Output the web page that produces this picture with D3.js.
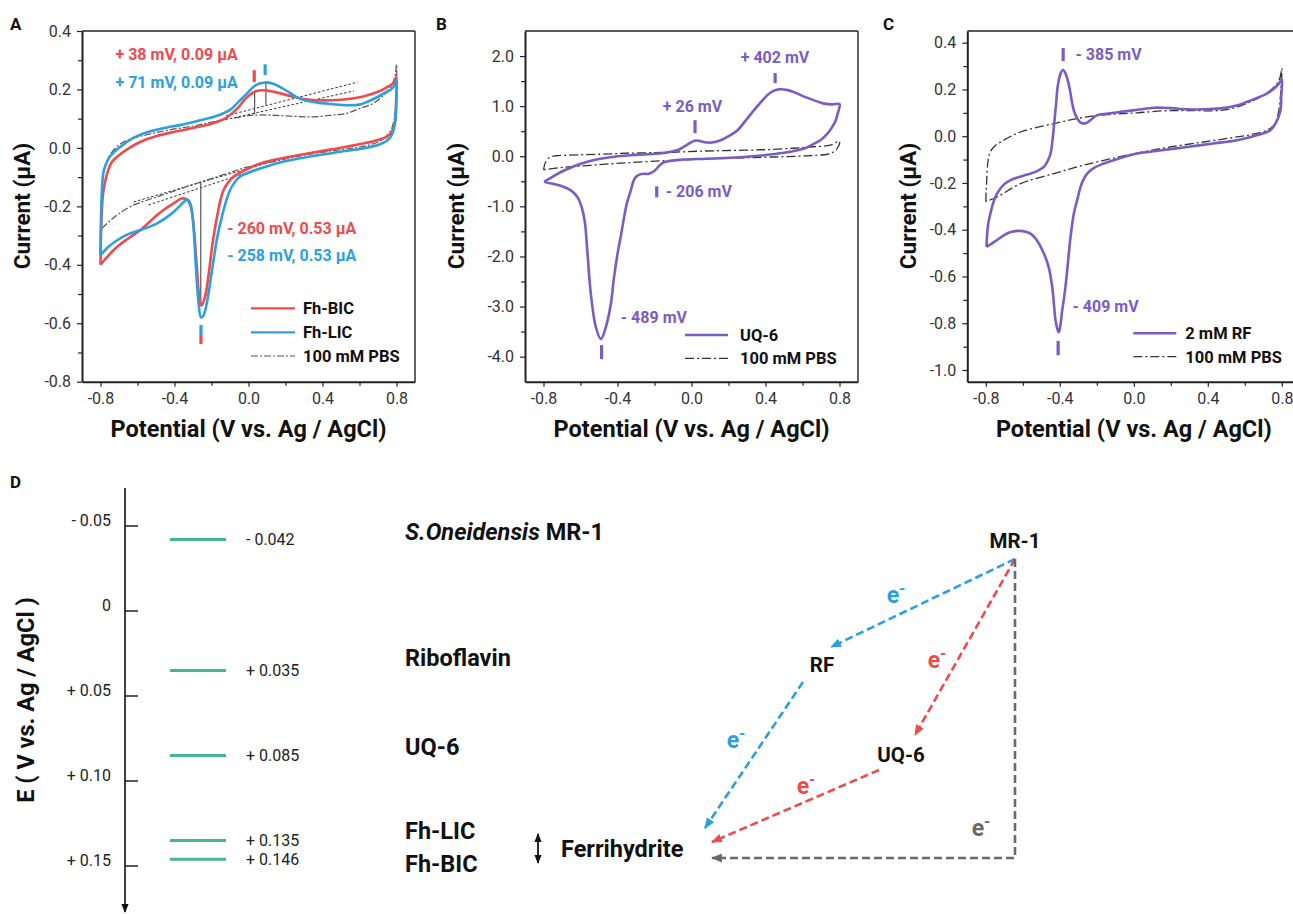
<!DOCTYPE html>
<html><head><meta charset="utf-8">
<script src="https://cdn.jsdelivr.net/npm/d3@7"></script>
<style>
body{margin:0;background:#fff;overflow:hidden}
svg{display:block}
text{font-family:Roboto,"Liberation Sans",Arial,sans-serif}
</style></head>
<body><svg id="c" width="1293" height="914"></svg>
<script>
// ---------------- DATA ----------------
const potentialTicks = [-0.8, -0.4, 0.0, 0.4, 0.8];
const potentialMinor = [-0.6, -0.2, 0.2, 0.6];
const ticksA = [-0.8, -0.6, -0.4, -0.2, 0.0, 0.2, 0.4];
const minorA = [-0.7, -0.5, -0.3, -0.1, 0.1, 0.3];
const ticksB = [-4.0, -3.0, -2.0, -1.0, 0.0, 1.0, 2.0];
const minorB = [-3.5, -2.5, -1.5, -0.5, 0.5, 1.5];
const ticksC = [-1.0, -0.8, -0.6, -0.4, -0.2, 0.0, 0.2, 0.4];
const minorC = [-0.9, -0.7, -0.5, -0.3, -0.1, 0.1, 0.3];

// Panel A: Fh-BIC (red), Fh-LIC (blue), PBS  [potential V, current uA]
const fhBIC = [[-0.80,-0.40],[-0.795,-0.25],[-0.785,-0.15],[-0.765,-0.09],[-0.74,-0.05],[-0.70,-0.025],[-0.656,-0.005],[-0.58,0.022],[-0.50,0.04],[-0.40,0.055],[-0.30,0.068],[-0.20,0.083],[-0.12,0.103],[-0.06,0.135],[-0.01,0.172],[0.04,0.194],[0.09,0.197],[0.15,0.19],[0.225,0.178],[0.30,0.167],[0.37,0.163],[0.45,0.163],[0.55,0.168],[0.62,0.176],[0.70,0.192],[0.755,0.21],[0.79,0.225],[0.80,0.243],
  [0.798,0.16],[0.793,0.09],[0.775,0.055],[0.746,0.038],[0.68,0.024],[0.62,0.015],[0.53,0.004],[0.44,-0.006],[0.35,-0.016],[0.26,-0.026],[0.17,-0.037],[0.08,-0.05],[0.009,-0.068],[-0.081,-0.099],[-0.135,-0.145],[-0.17,-0.236],[-0.195,-0.33],[-0.215,-0.43],[-0.235,-0.51],[-0.255,-0.54],[-0.268,-0.50],[-0.28,-0.40],[-0.295,-0.28],[-0.31,-0.205],[-0.33,-0.178],[-0.36,-0.173],[-0.405,-0.19],[-0.45,-0.208],[-0.494,-0.23],[-0.584,-0.281],[-0.65,-0.31],[-0.71,-0.338],[-0.76,-0.37],[-0.80,-0.40]];
const fhLIC = [[-0.80,-0.367],[-0.797,-0.236],[-0.79,-0.12],[-0.782,-0.076],[-0.755,-0.035],[-0.728,-0.015],[-0.68,0.01],[-0.62,0.035],[-0.54,0.055],[-0.44,0.07],[-0.37,0.078],[-0.26,0.095],[-0.17,0.11],[-0.10,0.13],[-0.05,0.16],[-0.01,0.185],[0.04,0.215],[0.09,0.224],[0.13,0.22],[0.17,0.209],[0.22,0.19],[0.26,0.174],[0.31,0.162],[0.37,0.155],[0.45,0.15],[0.53,0.146],[0.60,0.148],[0.64,0.157],[0.70,0.175],[0.73,0.186],[0.77,0.2],[0.79,0.214],[0.80,0.232],
  [0.798,0.14],[0.79,0.08],[0.775,0.045],[0.75,0.025],[0.70,0.01],[0.62,-0.002],[0.53,-0.01],[0.44,-0.019],[0.35,-0.028],[0.26,-0.038],[0.17,-0.05],[0.08,-0.067],[0.0,-0.085],[-0.05,-0.1],[-0.1,-0.145],[-0.144,-0.236],[-0.17,-0.31],[-0.2,-0.43],[-0.225,-0.53],[-0.245,-0.575],[-0.257,-0.58],[-0.27,-0.53],[-0.285,-0.40],[-0.30,-0.25],[-0.315,-0.19],[-0.332,-0.176],[-0.35,-0.185],[-0.405,-0.219],[-0.494,-0.258],[-0.584,-0.281],[-0.65,-0.295],[-0.71,-0.316],[-0.76,-0.34],[-0.80,-0.367]];
const pbsA = [[-0.80,-0.28],[-0.795,-0.18],[-0.785,-0.09],[-0.765,-0.045],[-0.745,-0.02],[-0.70,0.01],[-0.656,0.026],[-0.55,0.045],[-0.44,0.06],[-0.30,0.075],[-0.17,0.092],[-0.05,0.105],[0.03,0.112],[0.12,0.112],[0.25,0.108],[0.35,0.106],[0.45,0.112],[0.53,0.118],[0.60,0.135],[0.674,0.152],[0.73,0.18],[0.764,0.203],[0.79,0.24],[0.80,0.285],
  [0.797,0.17],[0.785,0.09],[0.76,0.05],[0.70,0.02],[0.62,0.005],[0.55,-0.002],[0.45,-0.01],[0.35,-0.02],[0.28,-0.027],[0.15,-0.045],[0.0,-0.065],[-0.08,-0.08],[-0.2,-0.105],[-0.3,-0.125],[-0.44,-0.156],[-0.53,-0.175],[-0.62,-0.195],[-0.70,-0.225],[-0.745,-0.247],[-0.80,-0.28]];
// baseline tangents and peak heights in panel A [v1,i1,v2,i2]
const baselinesA = [[-0.12,0.11,0.59,0.225],[-0.10,0.10,0.57,0.195],[-0.62,-0.185,0.12,-0.048],[-0.54,-0.195,0.10,-0.062]];
const peakLinesA = [[0.033,0.19,0.033,0.115],[0.094,0.222,0.094,0.148],[-0.258,-0.116,-0.258,-0.54]];

// Panel B: UQ-6
const uq6 = [[-0.797,-0.51],[-0.76,-0.43],[-0.724,-0.35],[-0.66,-0.24],[-0.598,-0.15],[-0.52,-0.07],[-0.418,-0.01],[-0.33,0.02],[-0.238,0.04],[-0.16,0.06],[-0.112,0.09],[-0.07,0.13],[-0.04,0.19],[-0.01,0.26],[0.015,0.31],[0.04,0.31],[0.07,0.28],[0.10,0.27],[0.158,0.32],[0.20,0.40],[0.249,0.52],[0.29,0.70],[0.338,0.92],[0.38,1.10],[0.41,1.22],[0.44,1.30],[0.47,1.335],[0.52,1.32],[0.56,1.27],[0.609,1.19],[0.66,1.12],[0.717,1.05],[0.76,1.035],[0.80,1.04],
  [0.79,0.85],[0.78,0.72],[0.76,0.58],[0.735,0.45],[0.70,0.33],[0.663,0.25],[0.62,0.17],[0.573,0.12],[0.50,0.07],[0.392,0.02],[0.30,-0.01],[0.212,-0.03],[0.08,-0.05],[-0.058,-0.07],[-0.11,-0.09],[-0.16,-0.14],[-0.20,-0.29],[-0.23,-0.35],[-0.26,-0.35],[-0.29,-0.38],[-0.31,-0.46],[-0.328,-0.68],[-0.35,-0.95],[-0.364,-1.21],[-0.38,-1.55],[-0.40,-1.95],[-0.42,-2.45],[-0.436,-2.95],[-0.463,-3.41],[-0.49,-3.65],[-0.517,-3.41],[-0.544,-2.75],[-0.562,-1.95],[-0.577,-1.30],[-0.595,-1.0],[-0.616,-0.82],[-0.652,-0.68],[-0.70,-0.60],[-0.75,-0.55],[-0.797,-0.51]];
const pbsB = [[-0.80,-0.27],[-0.79,-0.13],[-0.77,-0.03],[-0.73,0.01],[-0.69,0.02],[-0.50,0.04],[-0.35,0.06],[-0.10,0.08],[0.03,0.10],[0.20,0.115],[0.39,0.13],[0.55,0.16],[0.66,0.19],[0.75,0.22],[0.80,0.30],
  [0.79,0.17],[0.76,0.07],[0.735,0.04],[0.65,0.015],[0.57,0.0],[0.40,-0.02],[0.21,-0.04],[0.0,-0.065],[-0.15,-0.09],[-0.35,-0.13],[-0.51,-0.17],[-0.65,-0.21],[-0.72,-0.23],[-0.80,-0.27]];

// Panel C: 2 mM RF
const rf = [[-0.796,-0.474],[-0.793,-0.42],[-0.786,-0.37],[-0.775,-0.33],[-0.76,-0.285],[-0.739,-0.245],[-0.70,-0.205],[-0.666,-0.188],[-0.60,-0.17],[-0.558,-0.16],[-0.52,-0.148],[-0.486,-0.131],[-0.465,-0.105],[-0.45,-0.074],[-0.44,-0.02],[-0.432,0.04],[-0.42,0.14],[-0.41,0.22],[-0.395,0.27],[-0.383,0.283],[-0.37,0.27],[-0.351,0.22],[-0.335,0.15],[-0.324,0.11],[-0.305,0.075],[-0.288,0.058],[-0.27,0.054],[-0.252,0.058],[-0.225,0.075],[-0.198,0.09],[-0.14,0.097],[-0.072,0.104],[0.02,0.113],[0.108,0.122],[0.20,0.12],[0.29,0.115],[0.38,0.115],[0.468,0.119],[0.55,0.13],[0.613,0.147],[0.67,0.165],[0.721,0.183],[0.76,0.205],[0.784,0.225],[0.80,0.245],
  [0.797,0.17],[0.793,0.111],[0.77,0.06],[0.739,0.026],[0.66,0.003],[0.559,-0.017],[0.42,-0.032],[0.288,-0.046],[0.15,-0.06],[0.018,-0.074],[-0.08,-0.095],[-0.162,-0.117],[-0.215,-0.135],[-0.252,-0.16],[-0.275,-0.19],[-0.288,-0.217],[-0.305,-0.27],[-0.324,-0.331],[-0.342,-0.431],[-0.36,-0.574],[-0.375,-0.68],[-0.387,-0.745],[-0.397,-0.81],[-0.405,-0.838],[-0.413,-0.825],[-0.423,-0.788],[-0.441,-0.645],[-0.46,-0.56],[-0.486,-0.502],[-0.52,-0.45],[-0.558,-0.417],[-0.60,-0.406],[-0.63,-0.405],[-0.665,-0.41],[-0.703,-0.424],[-0.75,-0.45],[-0.796,-0.474]];
const pbsC = [[-0.80,-0.28],[-0.798,-0.23],[-0.795,-0.19],[-0.79,-0.12],[-0.78,-0.075],[-0.757,-0.046],[-0.703,-0.017],[-0.612,0.018],[-0.432,0.054],[-0.252,0.083],[-0.10,0.095],[0.018,0.10],[0.15,0.108],[0.29,0.11],[0.468,0.11],[0.56,0.125],[0.649,0.154],[0.70,0.175],[0.739,0.197],[0.77,0.22],[0.79,0.25],[0.80,0.29],
  [0.795,0.20],[0.784,0.111],[0.76,0.05],[0.72,0.026],[0.64,0.008],[0.559,-0.003],[0.40,-0.022],[0.198,-0.046],[0.0,-0.075],[-0.162,-0.103],[-0.30,-0.13],[-0.432,-0.16],[-0.612,-0.203],[-0.739,-0.26],[-0.80,-0.28]];

// peak annotations
const peakTextA = ["+ 38 mV, 0.09 μA", "+ 71 mV, 0.09 μA", "- 260 mV, 0.53 μA", "- 258 mV, 0.53 μA"];
const peakTextB = ["+ 402 mV", "+ 26 mV", "- 206 mV", "- 489 mV"];
const peakTextC = ["- 385 mV", "- 409 mV"];
// peak marker potentials (V)
const peakPosA = [0.031, 0.09, -0.257, -0.257];
const peakPosB = [0.452, 0.019, -0.188, -0.486];
const peakPosC = [-0.382, -0.409];

// Panel D
const levelNames = ["S.Oneidensis MR-1", "Riboflavin", "UQ-6", "Fh-LIC", "Fh-BIC"];
const levelValues = [-0.042, 0.035, 0.085, 0.135, 0.146];
const levelLabels = ["- 0.042", "+ 0.035", "+ 0.085", "+ 0.135", "+ 0.146"];
const eTicks = [-0.05, 0, 0.05, 0.10, 0.15];
const eTickLabels = ["- 0.05", "0", "+ 0.05", "+ 0.10", "+ 0.15"];

// ---------------- STYLE ----------------
const RED = "#ef4a4e", BLUE = "#2b9fe0", PURPLE = "#7a5cc6", TEAL = "#46b49b", GRAY = "#6a6a6a", INK = "#222";
const svg = d3.select("#c");
const fmt = d => d.toFixed(1);
const TITLE = 23.5;

function panel(opts) {
  const x = d3.scaleLinear().domain([-0.9, 0.9]).range([opts.left, opts.left + 333]);
  const y = d3.scaleLinear().domain(opts.yDomain).range([381.7, 31]);
  const g = svg.append("g");
  g.append("line").attr("x1", x.range()[0]).attr("x2", x.range()[1]).attr("y1", 31).attr("y2", 31).attr("stroke", INK).attr("stroke-width", 1.4);
  g.append("line").attr("x1", x.range()[1]).attr("x2", x.range()[1]).attr("y1", 31).attr("y2", 381.7).attr("stroke", INK).attr("stroke-width", 1.4);
  g.append("g").attr("transform", "translate(0,381.7)").call(d3.axisBottom(x).tickValues(potentialMinor).tickFormat("").tickSize(4).tickSizeOuter(0)).call(s => s.select(".domain").remove());
  g.append("g").attr("transform", `translate(${opts.left},0)`).call(d3.axisLeft(y).tickValues(opts.minor).tickFormat("").tickSize(4).tickSizeOuter(0)).call(s => s.select(".domain").remove());
  const xa = g.append("g").attr("transform", "translate(0,381.7)").call(d3.axisBottom(x).tickValues(potentialTicks).tickFormat(fmt).tickSize(5).tickPadding(6).tickSizeOuter(0));
  const ya = g.append("g").attr("transform", `translate(${opts.left},0)`).call(d3.axisLeft(y).tickValues(opts.ticks).tickFormat(fmt).tickSize(5).tickPadding(6).tickSizeOuter(0));
  g.selectAll(".tick line").attr("stroke", INK).attr("stroke-width", 1.2);
  [xa, ya].forEach(a => { a.select(".domain").attr("stroke", INK).attr("stroke-width", 2); a.selectAll("text").attr("font-size", 16).attr("fill", "#333").attr("font-family", "Roboto"); });
  g.append("text").attr("x", (x.range()[0] + x.range()[1]) / 2).attr("y", 437).attr("text-anchor", "middle").attr("font-size", TITLE).attr("font-weight", 700).attr("fill", "#111").text("Potential (V vs. Ag / AgCl)");
  g.append("text").attr("transform", `translate(${opts.titleX},206) rotate(-90)`).attr("text-anchor", "middle").attr("dy", "0.35em").attr("font-size", 22.5).attr("font-weight", 700).attr("fill", "#111").text("Current (μA)");
  g.append("text").attr("x", opts.letterX).attr("y", 30).attr("font-size", 17).attr("font-weight", 700).attr("fill", "#111").text(opts.letter);
  return {g, x, y};
}
const line = (x, y) => d3.line().x(d => x(d[0])).y(d => y(d[1])).curve(d3.curveCatmullRom.alpha(0.5));

function legend(g, x0, rows) {
  rows.forEach(r => {
    g.append("line").attr("x1", x0).attr("x2", x0 + r.len).attr("y1", r.y).attr("y2", r.y).attr("stroke", r.color).attr("stroke-width", r.w).attr("stroke-dasharray", r.dash || null);
    g.append("text").attr("x", x0 + r.len + r.gap).attr("y", r.y).attr("dy", "0.36em").attr("font-size", 16.5).attr("font-weight", 700).attr("fill", "#111").text(r.label);
  });
}
function marker(g, x, y, v, i1, i2, color) {
  g.append("line").attr("x1", x(v)).attr("x2", x(v)).attr("y1", y(i1)).attr("y2", y(i2)).attr("stroke", color).attr("stroke-width", 3.2);
}
function note(g, x, y, v, i, txt, color) {
  g.append("text").attr("x", x(v)).attr("y", y(i)).attr("font-size", 16).attr("font-weight", 700).attr("fill", color).text(txt);
}

// ---------- Panel A ----------
{
  const {g, x, y} = panel({left: 82, yDomain: [-0.8, 0.4], ticks: ticksA, minor: minorA, titleX: 22, letter: "A", letterX: 10});
  baselinesA.forEach(b => g.append("line").attr("x1", x(b[0])).attr("y1", y(b[1])).attr("x2", x(b[2])).attr("y2", y(b[3])).attr("stroke", "#333").attr("stroke-width", 1).attr("stroke-dasharray", "2.5,2"));
  peakLinesA.forEach(b => g.append("line").attr("x1", x(b[0])).attr("y1", y(b[1])).attr("x2", x(b[2])).attr("y2", y(b[3])).attr("stroke", "#555").attr("stroke-width", 1.2));
  g.append("path").attr("d", line(x, y)(pbsA)).attr("fill", "none").attr("stroke", "#555").attr("stroke-width", 1.2).attr("stroke-dasharray", "7,2,2,2");
  g.append("path").attr("d", line(x, y)(fhBIC)).attr("fill", "none").attr("stroke", RED).attr("stroke-width", 2.6);
  g.append("path").attr("d", line(x, y)(fhLIC)).attr("fill", "none").attr("stroke", BLUE).attr("stroke-width", 2.6);
  marker(g, x, y, peakPosA[0], 0.266, 0.225, RED);
  marker(g, x, y, peakPosA[1], 0.286, 0.249, BLUE);
  marker(g, x, y, peakPosA[2], -0.606, -0.640, BLUE);
  marker(g, x, y, peakPosA[3], -0.640, -0.671, RED);
  note(g, x, y, -0.719, 0.30, peakTextA[0], RED);
  note(g, x, y, -0.719, 0.204, peakTextA[1], BLUE);
  note(g, x, y, -0.115, -0.295, peakTextA[2], RED);
  note(g, x, y, -0.115, -0.387, peakTextA[3], BLUE);
  legend(g, 251, [
    {y: 308.3, len: 44, gap: 8, color: RED, w: 2.2, label: "Fh-BIC"},
    {y: 332.3, len: 44, gap: 8, color: BLUE, w: 2.2, label: "Fh-LIC"},
    {y: 356, len: 44, gap: 8, color: "#555", w: 1.2, dash: "7,2,2,2", label: "100 mM PBS"}]);
}
// ---------- Panel B ----------
{
  const {g, x, y} = panel({left: 525, yDomain: [-4.5, 2.5], ticks: ticksB, minor: minorB, titleX: 456, letter: "B", letterX: 436});
  g.append("path").attr("d", line(x, y)(pbsB)).attr("fill", "none").attr("stroke", "#333").attr("stroke-width", 1.3).attr("stroke-dasharray", "9,3,2,3");
  g.append("path").attr("d", line(x, y)(uq6)).attr("fill", "none").attr("stroke", PURPLE).attr("stroke-width", 2.6);
  marker(g, x, y, peakPosB[0], 1.66, 1.46, PURPLE);
  marker(g, x, y, peakPosB[1], 0.72, 0.46, PURPLE);
  marker(g, x, y, peakPosB[2], -0.60, -0.82, PURPLE);
  marker(g, x, y, peakPosB[3], -3.77, -4.05, PURPLE);
  note(g, x, y, 0.266, 1.86, peakTextB[0], PURPLE);
  note(g, x, y, -0.155, 0.88, peakTextB[1], PURPLE);
  note(g, x, y, -0.139, -0.82, peakTextB[2], PURPLE);
  note(g, x, y, -0.382, -3.32, peakTextB[3], PURPLE);
  legend(g, 685, [
    {y: 335, len: 43, gap: 12, color: PURPLE, w: 2.6, label: "UQ-6"},
    {y: 358.3, len: 43, gap: 12, color: "#333", w: 1.3, dash: "9,3,2,3", label: "100 mM PBS"}]);
}
// ---------- Panel C ----------
{
  const {g, x, y} = panel({left: 967.3, yDomain: [-1.05, 0.45], ticks: ticksC, minor: minorC, titleX: 908, letter: "C", letterX: 883});
  g.append("path").attr("d", line(x, y)(pbsC)).attr("fill", "none").attr("stroke", "#333").attr("stroke-width", 1.3).attr("stroke-dasharray", "9,3,2,3");
  g.append("path").attr("d", line(x, y)(rf)).attr("fill", "none").attr("stroke", PURPLE).attr("stroke-width", 2.6);
  marker(g, x, y, peakPosC[0], 0.377, 0.321, PURPLE);
  marker(g, x, y, peakPosC[1], -0.876, -0.937, PURPLE);
  note(g, x, y, -0.315, 0.325, peakTextC[0], PURPLE);
  note(g, x, y, -0.331, -0.754, peakTextC[1], PURPLE);
  legend(g, 1133.3, [
    {y: 333.3, len: 43, gap: 9, color: PURPLE, w: 2.6, label: "2 mM RF"},
    {y: 356.7, len: 43, gap: 9, color: "#333", w: 1.3, dash: "9,3,2,3", label: "100 mM PBS"}]);
}

// ---------- Panel D ----------
{
  const g = svg.append("g");
  const defs = svg.append("defs");
  const mk = (id, color, size) => defs.append("marker").attr("id", id).attr("viewBox", "0 0 10 10").attr("refX", 9).attr("refY", 5)
      .attr("markerWidth", size).attr("markerHeight", size).attr("markerUnits", "userSpaceOnUse").attr("orient", "auto-start-reverse")
      .append("path").attr("d", "M0,1 L10,5 L0,9 z").attr("fill", color);
  mk("mBlue", BLUE, 11); mk("mRed", RED, 11); mk("mGray", GRAY, 11); mk("mBlack", "#111", 9);

  const yE = d3.scaleLinear().domain([-0.05, 0.15]).range([526, 866]);
  g.append("text").attr("x", 10).attr("y", 488).attr("font-size", 17).attr("font-weight", 700).attr("fill", "#111").text("D");
  g.append("line").attr("x1", 125).attr("x2", 125).attr("y1", 488).attr("y2", 912).attr("stroke", "#111").attr("stroke-width", 1.6).attr("marker-end", "url(#mBlack)");
  eTicks.forEach((t, k) => {
    g.append("line").attr("x1", 125).attr("x2", 138).attr("y1", yE(t)).attr("y2", yE(t)).attr("stroke", "#111").attr("stroke-width", 1.4);
    g.append("text").attr("x", 111).attr("y", yE(t) - 6).attr("text-anchor", "end").attr("dy", "0.35em").attr("font-size", 16).attr("fill", "#222").text(eTickLabels[k]);
  });
  g.append("text").attr("transform", "translate(26,700) rotate(-90)").attr("text-anchor", "middle").attr("dy", "0.35em").attr("font-size", 23.5).attr("font-weight", 700).attr("fill", "#111").text("E ( V vs. Ag / AgCl )");
  levelValues.forEach((v, k) => {
    g.append("line").attr("x1", 170).attr("x2", 226).attr("y1", yE(v)).attr("y2", yE(v)).attr("stroke", TEAL).attr("stroke-width", 3);
    g.append("text").attr("x", 246).attr("y", yE(v)).attr("dy", "0.35em").attr("font-size", 16).attr("fill", "#222").text(levelLabels[k]);
  });
  const nameY = [532, 658, 747, 831, 864];
  levelNames.forEach((n, k) => {
    const t = g.append("text").attr("x", 405).attr("y", nameY[k]).attr("dy", "0.35em").attr("font-size", 23.5).attr("font-weight", 700).attr("fill", "#111");
    if (k === 0) { t.append("tspan").attr("font-style", "italic").text("S.Oneidensis"); t.append("tspan").text(" MR-1"); }
    else t.text(n);
  });
  g.append("line").attr("x1", 538).attr("x2", 538).attr("y1", 834).attr("y2", 863).attr("stroke", "#111").attr("stroke-width", 1.8)
    .attr("marker-start", "url(#mBlack)").attr("marker-end", "url(#mBlack)");
  g.append("text").attr("x", 561).attr("y", 849).attr("dy", "0.35em").attr("font-size", 23.5).attr("font-weight", 700).attr("fill", "#111").text("Ferrihydrite");
  [["MR-1", 1015, 541], ["RF", 822, 665], ["UQ-6", 901, 755]].forEach(n =>
    g.append("text").attr("x", n[1]).attr("y", n[2]).attr("dy", "0.35em").attr("text-anchor", "middle").attr("font-size", 20.5).attr("font-weight", 700).attr("fill", "#111").text(n[0]));
  const arrow = (pts, color, m) => g.append("path").attr("d", d3.line()(pts)).attr("fill", "none").attr("stroke", color).attr("stroke-width", 2.6)
      .attr("stroke-dasharray", "8,4").attr("marker-end", `url(#${m})`);
  arrow([[1015, 559], [831, 647]], BLUE, "mBlue");
  arrow([[803, 682], [705, 828]], BLUE, "mBlue");
  arrow([[1015, 559], [915, 735]], RED, "mRed");
  arrow([[879, 770], [712, 842]], RED, "mRed");
  arrow([[1015, 559], [1015, 858], [712, 858]], GRAY, "mGray");
  const eLabel = (x, y, color) => {
    const t = g.append("text").attr("x", x).attr("y", y).attr("dy", "0.35em").attr("text-anchor", "middle").attr("font-size", 23).attr("font-weight", 700).attr("fill", color);
    t.append("tspan").text("e");
    t.append("tspan").attr("font-size", 16).attr("dy", "-0.55em").text("-");
  };
  eLabel(896, 595, BLUE);
  eLabel(736, 740, BLUE);
  eLabel(937, 660, RED);
  eLabel(806, 786, RED);
  eLabel(981, 828, GRAY);
}
</script></body></html>
